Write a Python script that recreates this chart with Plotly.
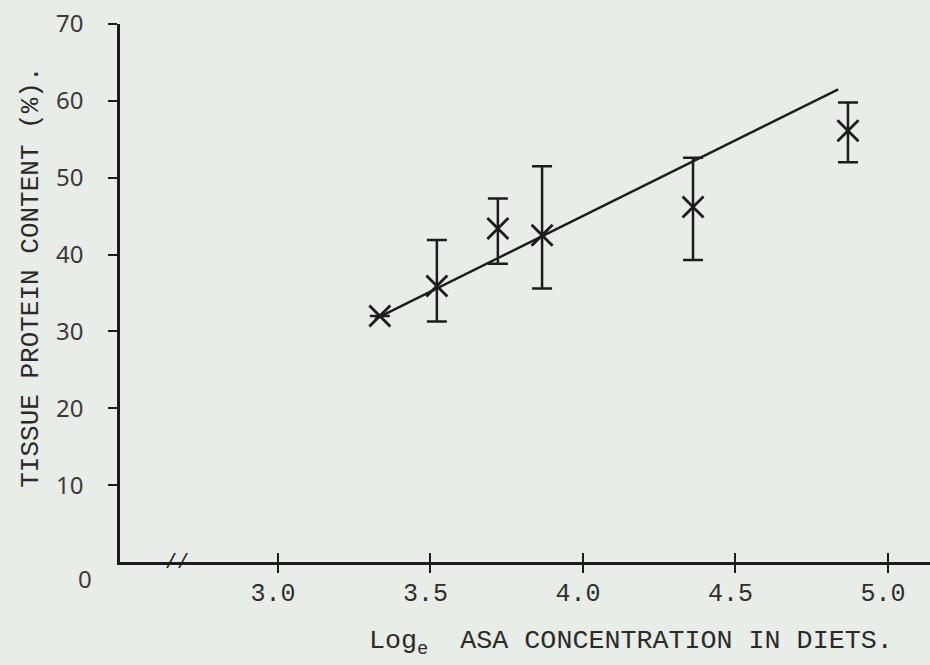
import plotly.graph_objects as go

# Mean tissue protein content against log_e ASA concentration in the diet
log_conc = [3.334, 3.521, 3.721, 3.866, 4.361, 4.869]
protein_mean = [32.0, 35.9, 43.4, 42.5, 46.2, 56.1]
protein_high = [None, 41.9, 47.3, 51.5, 52.6, 59.8]
protein_low = [None, 31.3, 38.8, 35.6, 39.3, 52.0]

# Fitted line drawn through the points (end points)
fit_x = [3.318, 4.837]
fit_y = [31.6, 61.5]

x_ticks = [3.0, 3.5, 4.0, 4.5, 5.0]
x_tick_text = ["3.0", "3.5", "4.0", "4.5", "5.0"]
y_ticks = [10, 20, 30, 40, 50, 60, 70]
y_tick_text = ["10", "20", "30", "40", "50", "60", "70"]

PAPER = "rgb(233,237,232)"
INK = "#1c1c1c"
TYPE = "Liberation Mono, Courier New, monospace"

err_plus = [None if h is None else h - m for h, m in zip(protein_high, protein_mean)]
err_minus = [None if l is None else m - l for l, m in zip(protein_low, protein_mean)]

fig = go.Figure()

fig.add_trace(go.Scatter(
    x=fit_x, y=fit_y, mode="lines",
    line=dict(color=INK, width=2.4),
    hoverinfo="skip", showlegend=False,
))

fig.add_trace(go.Scatter(
    x=log_conc, y=protein_mean, mode="markers",
    marker=dict(symbol="x-thin-open", size=21, color=INK, line=dict(color=INK, width=2.8)),
    error_y=dict(type="data", symmetric=False, array=err_plus, arrayminus=err_minus,
                 color=INK, thickness=2.5, width=10),
    showlegend=False,
))

# second x axis carries the upward half of the crossing tick marks
fig.add_trace(go.Scatter(x=[None], y=[None], xaxis="x2", showlegend=False, hoverinfo="skip"))

fig.update_layout(
    width=930, height=665,
    margin=dict(l=120, r=0, t=24, b=103),
    paper_bgcolor=PAPER, plot_bgcolor=PAPER,
    xaxis=dict(
        range=[2.482, 5.138], showgrid=False, zeroline=False,
        showline=True, linecolor=INK, linewidth=2.5,
        ticks="outside", ticklen=8, tickwidth=2, tickcolor=INK,
        tickvals=x_ticks, ticktext=x_tick_text,
        tickfont=dict(family=TYPE, size=25, color="#2e2e2e"),
        ticklabelstandoff=-2, ticklabelshift=-5,
    ),
    xaxis2=dict(
        overlaying="x", matches="x", side="bottom", showgrid=False, zeroline=False,
        showline=False, ticks="inside", ticklen=9, tickwidth=2, tickcolor=INK,
        tickvals=x_ticks, showticklabels=False,
    ),
    yaxis=dict(
        range=[0, 70], showgrid=False, zeroline=False,
        showline=True, linecolor=INK, linewidth=2.5,
        ticks="outside", ticklen=9, tickwidth=2, tickcolor=INK,
        tickvals=y_ticks, ticktext=y_tick_text,
        tickfont=dict(family="Noto Sans, sans-serif", size=24, color="#3a3a3a"),
        ticklabelstandoff=20,
    ),
    annotations=[
        dict(text="TISSUE PROTEIN CONTENT (%).", xref="paper", yref="paper",
             x=-0.11, y=0.53, xanchor="center", yanchor="middle", textangle=-90,
             showarrow=False, font=dict(family=TYPE, size=26, color="#2a2a2a")),
        dict(text="Log<sub>e</sub>  ASA CONCENTRATION IN DIETS.", xref="paper", yref="paper",
             x=0.631, y=-0.15, xanchor="center", yanchor="middle", showarrow=False,
             font=dict(family=TYPE, size=26.7, color="#2a2a2a")),
        dict(text="0", xref="paper", yref="paper", x=-0.043, y=-0.03,
             xanchor="center", yanchor="middle", showarrow=False,
             font=dict(family="Noto Sans, sans-serif", size=24, color="#3a3a3a")),
        dict(text="//", xref="x", yref="y", x=2.67, y=0, showarrow=False,
             font=dict(family=TYPE, size=20, color=INK)),
    ],
)

fig.write_html("out.html")
